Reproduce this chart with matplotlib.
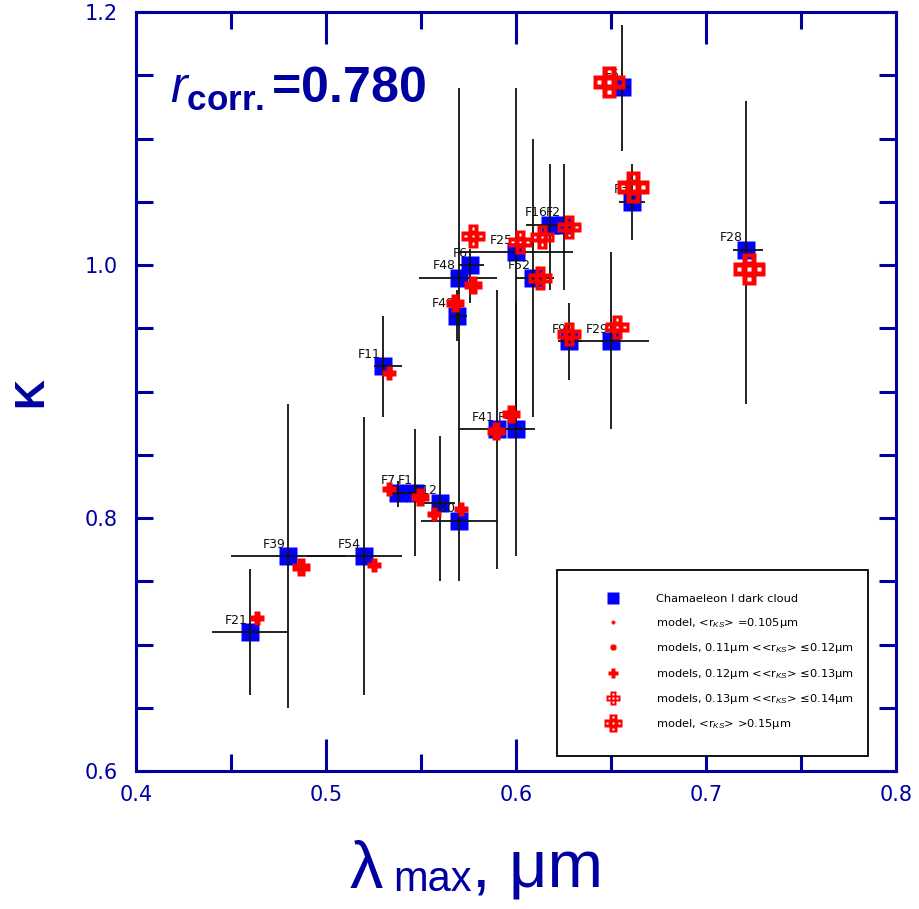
import numpy as np
import matplotlib
matplotlib.use("Agg")
import matplotlib.pyplot as plt
from matplotlib.path import Path
from matplotlib.lines import Line2D
from matplotlib.ticker import MultipleLocator

# observed stars, Chamaeleon I dark cloud
names = ['F21', 'F39', 'F54', 'F11', 'F7', 'F1', 'F12', 'F30', 'F41', 'F4', 'F49',
         'F48', 'F6', 'F25', 'F52', 'F16', 'F2', 'F9', 'F29', 'F5', 'F3', 'F28']
lam_obs = [0.460, 0.480, 0.520, 0.530, 0.538, 0.547, 0.560, 0.570, 0.590, 0.600, 0.569,
           0.570, 0.576, 0.600, 0.609, 0.618, 0.625, 0.628, 0.650, 0.656, 0.661, 0.721]
k_obs = [0.710, 0.770, 0.770, 0.920, 0.820, 0.820, 0.812, 0.798, 0.870, 0.870, 0.960,
         0.990, 1.000, 1.010, 0.990, 1.032, 1.032, 0.940, 0.940, 1.141, 1.050, 1.012]
# error bar ends
lam_lo = [0.440, 0.450, 0.490, 0.525, 0.534, 0.543, 0.549, 0.550, 0.570, 0.595, 0.565,
          0.549, 0.570, 0.570, 0.600, 0.605, 0.620, 0.622, 0.630, 0.652, 0.654, 0.714]
lam_hi = [0.480, 0.510, 0.540, 0.540, 0.548, 0.551, 0.568, 0.590, 0.610, 0.605, 0.574,
          0.590, 0.583, 0.630, 0.620, 0.630, 0.630, 0.634, 0.670, 0.660, 0.668, 0.730]
k_lo = [0.660, 0.650, 0.660, 0.880, 0.809, 0.770, 0.750, 0.750, 0.760, 0.770, 0.940,
        0.940, 0.970, 0.880, 0.880, 0.980, 0.980, 0.909, 0.870, 1.090, 1.020, 0.890]
k_hi = [0.760, 0.890, 0.880, 0.960, 0.829, 0.870, 0.865, 0.940, 0.980, 0.970, 0.980,
        1.140, 1.013, 1.140, 1.100, 1.080, 1.080, 0.970, 1.010, 1.190, 1.080, 1.130]

# models
lam_mod = [0.4635, 0.487, 0.525, 0.533, 0.5333, 0.5495, 0.557, 0.571, 0.5895, 0.5974, 0.5679,
           0.5772, 0.5775, 0.602, 0.6126, 0.6135, 0.628, 0.628, 0.653, 0.649, 0.6614, 0.7228]
k_mod = [0.721, 0.7614, 0.763, 0.915, 0.8227, 0.817, 0.803, 0.807, 0.8688, 0.882, 0.9696,
         0.984, 1.023, 1.018, 0.9894, 1.0225, 1.030, 0.9455, 0.9512, 1.1449, 1.0618, 0.997]
# size class of <r_KS>: 0 =0.105, 1 0.11-0.12, 2 0.12-0.13, 3 0.13-0.14, 4 >0.15
mod_cls = [1, 2, 1, 1, 1, 2, 1, 1, 2, 2, 2, 2, 3, 3, 3, 3, 3, 3, 3, 4, 4, 4]

leg_labels = ['Chamaeleon I dark cloud',
              'model, <r$_{KS}$> =0.105μm',
              'models, 0.11μm <<r$_{KS}$> ≤0.12μm',
              'models, 0.12μm <<r$_{KS}$> ≤0.13μm',
              'models, 0.13μm <<r$_{KS}$> ≤0.14μm',
              'model, <r$_{KS}$> >0.15μm']

navy = '#0000a0'
plt.rcParams['mathtext.fontset'] = 'custom'
plt.rcParams['mathtext.rm'] = 'Liberation Sans'
plt.rcParams['mathtext.it'] = 'Liberation Sans:italic'
plt.rcParams['mathtext.bf'] = 'Liberation Sans:bold'


def square(cx, cy, h):
    # clockwise, so it cuts a hole
    return [(cx - h, cy - h), (cx - h, cy + h), (cx + h, cy + h), (cx + h, cy - h)]


a = 0.65   # half width of the arms
outline = [(-a, -1.5), (a, -1.5), (a, -a), (1.5, -a), (1.5, a), (a, a),
           (a, 1.5), (-a, 1.5), (-a, a), (-1.5, a), (-1.5, -a), (-a, -a)]


def make_plus(hollow):
    verts = outline + [(0, 0)]
    codes = [Path.MOVETO] + [Path.LINETO] * 11 + [Path.CLOSEPOLY]
    if hollow:
        d = 0.95
        for c in [(0, 0), (d, 0), (-d, 0), (0, d), (0, -d)]:
            verts += square(c[0], c[1], 0.19) + [(0, 0)]
            codes += [Path.MOVETO] + [Path.LINETO] * 3 + [Path.CLOSEPOLY]
    return Path(verts, codes)


plus_solid = make_plus(False)
plus_hollow = make_plus(True)
cls_marker = [plus_solid, plus_solid, plus_solid, plus_hollow, plus_hollow]
cls_size = [5.5, 9.5, 12.5, 17, 23]
leg_size = [3.5, 5, 7, 9.5, 13]

fig = plt.figure(figsize=(9.19, 9.09), dpi=100)
ax = fig.add_axes([0.148, 0.1518, 0.827, 0.835])

lam_obs = np.array(lam_obs)
k_obs = np.array(k_obs)
ax.plot(lam_obs, k_obs, 's', color='#0000ff', ms=13, mec='none', zorder=2)
ax.errorbar(lam_obs, k_obs,
            xerr=[lam_obs - np.array(lam_lo), np.array(lam_hi) - lam_obs],
            yerr=[k_obs - np.array(k_lo), np.array(k_hi) - k_obs],
            fmt='none', ecolor='#111111', elinewidth=1.3, capsize=0, zorder=3)

for n, x, y in zip(names, lam_obs, k_obs):
    ax.annotate(n, (x, y), xytext=(-2, 6), textcoords='offset points',
                ha='right', va='baseline', fontsize=9, color='#111111', zorder=4)

for c in range(5):
    xs = [x for x, m in zip(lam_mod, mod_cls) if m == c]
    ys = [y for y, m in zip(k_mod, mod_cls) if m == c]
    if xs:
        ax.plot(xs, ys, ls='none', marker=cls_marker[c], ms=cls_size[c],
                color='#ff0000', mec='none', zorder=5)

ax.set_xlim(0.4, 0.8)
ax.set_ylim(0.6, 1.2)
ax.xaxis.set_major_locator(MultipleLocator(0.1))
ax.xaxis.set_minor_locator(MultipleLocator(0.05))
ax.yaxis.set_major_locator(MultipleLocator(0.2))
ax.yaxis.set_minor_locator(MultipleLocator(0.05))
ax.tick_params(which='both', direction='in', top=True, right=True, color=navy,
               width=2.2, labelcolor=navy, labelsize=15)
ax.tick_params(axis='x', which='major', length=23, pad=10)
ax.tick_params(axis='y', which='major', length=12, pad=13)
ax.tick_params(which='minor', length=12)
for s in ax.spines.values():
    s.set_color(navy)
    s.set_linewidth(2.2)

# axis titles
fig.text(350 / 919, 1 - 888 / 909, 'λ', fontsize=48, color=navy,
         fontfamily='Liberation Sans', ha='left', va='baseline')
fig.text(393 / 919, 1 - 891 / 909, 'max', fontsize=30, color=navy,
         fontfamily='Liberation Sans', ha='left', va='baseline')
fig.text(472 / 919, 1 - 888 / 909, ', μm', fontsize=48, color=navy,
         fontfamily='Liberation Sans', ha='left', va='baseline')
ax.set_ylabel('K', fontsize=30, color=navy, fontfamily='Liberation Sans',
              fontweight='bold', labelpad=24)

ax.text(0.045, 0.88, r'$\mathbf{\mathit{r}_{corr.}}$=0.780', transform=ax.transAxes,
        fontsize=36, fontweight='bold', color=navy, fontfamily='Liberation Sans',
        va='baseline')

handles = [Line2D([], [], ls='none', marker='s', ms=9, color='#0000ff', mec='none')]
for c in range(5):
    handles.append(Line2D([], [], ls='none', marker=cls_marker[c], ms=leg_size[c],
                          color='#ff0000', mec='none'))
leg = ax.legend(handles, leg_labels, loc='upper left',
                bbox_to_anchor=(0.554, 0.265, 0.409, 0.0), mode='expand',
                fontsize=8.2, frameon=True, fancybox=False, edgecolor='black',
                framealpha=1.0, borderpad=2.15, handlelength=5.5, handletextpad=1.0,
                labelspacing=1.0, borderaxespad=0)
leg.get_frame().set_linewidth(1.3)

fig.savefig('out.png', dpi=100)
